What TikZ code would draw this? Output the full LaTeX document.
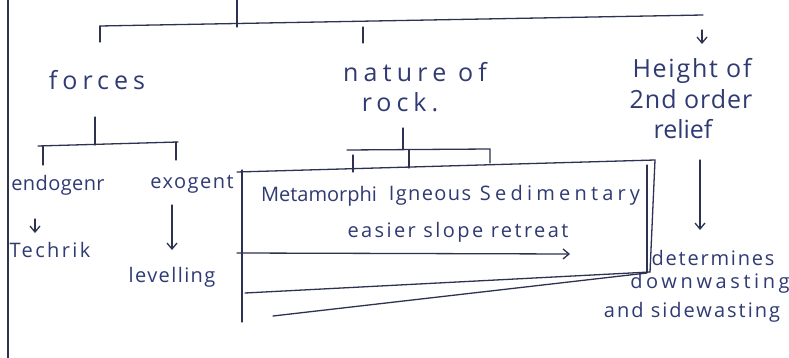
\documentclass[tikz,border=0pt]{standalone}
\usepackage{fontspec}
\setmainfont{Open Sans}
\usetikzlibrary{arrows.meta}
\definecolor{ink}{RGB}{48,58,115}
\definecolor{pen}{RGB}{45,50,80}
\begin{document}
\begin{tikzpicture}[x=1pt,y=-1pt,
  lbl/.style={text=ink, inner sep=0pt, font=\fontsize{25}{28}\selectfont\addfontfeatures{LetterSpace=#1}},
  lbl/.default=0,
  sm/.style={text=ink, inner sep=0pt, font=\fontsize{20}{23}\selectfont\addfontfeatures{LetterSpace=#1}},
  sm/.default=0,
  ln/.style={draw=pen, line width=1.3pt, line cap=round},
  arr/.style={ln, -{Straight Barb[length=6pt,width=10pt]}}]
\fill[white] (0,0) rectangle (789,358);
\useasboundingbox (0,0) rectangle (789,358);
% labels
\node[lbl=20] (forces) at (97,80) {forces};
\node[lbl=21] (nature) at (415,72) {nature of};
\node[lbl=20] (rock) at (400,102) {rock.};
\node[lbl=7] (height) at (692,71) {Height of};
\node[lbl=4] (order) at (691,99) {2nd order};
\node[lbl=0] (relief) at (683,129) {relief};
\node[sm=2] (endo) at (58,185) {endogenr};
\node[sm=7.5] (exo) at (192,184) {exogent};
\node[sm=12] (tech) at (50,250) {Techrik};
\node[sm=7] (level) at (172,277) {levelling};
\node[sm=0] (meta) at (319,196) {Metamorphi};
\node[sm=7] (ign) at (430,196) {Igneous};
\node[sm=21] (sed) at (560,195) {Sedimentary};
\node[sm=12] (easier) at (458,232) {easier slope retreat};
\node[sm=9] (det) at (713,258) {determines};
\node[sm=18] (down) at (710,283) {downwasting};
\node[sm=10] (side) at (692,312) {and sidewasting};
% coordinates
\coordinate (stemtop) at (237,0);
\coordinate (stembot) at (237,27);
\coordinate (barL) at (100,26);
\coordinate (barR) at (703,15);
\coordinate (dropL) at (100,42);
\coordinate (midA) at (363,27);
\coordinate (midB) at (363,43);
\coordinate (rA) at (702,30);
\coordinate (rB) at (702,44);
% top tree
\draw[ln] (stemtop) -- (stembot);
\draw[ln] (barL) -- (barR);
\draw[ln] (barL) -- (dropL);
\draw[ln] (midA) -- (midB);
\draw[arr] (rA) -- (rB);
% forces subtree
\coordinate (fs1) at (95,117); \coordinate (fs2) at (95,145);
\coordinate (fb1) at (38,146); \coordinate (fb2) at (178,142);
\coordinate (fl1) at (43,146); \coordinate (fl2) at (43,165);
\coordinate (fr1) at (176,142); \coordinate (fr2) at (176,160);
\draw[ln] (fs1) -- (fs2);
\draw[ln] (fb1) -- (fb2);
\draw[ln] (fl1) -- (fl2);
\draw[ln] (fr1) -- (fr2);
\coordinate (ea) at (35,219); \coordinate (eb) at (35,233);
\draw[arr] (ea) -- (eb);
\coordinate (xa) at (172,205); \coordinate (xb) at (172,250);
\draw[arr] (xa) -- (xb);
% rock subtree
\coordinate (rs1) at (403,128); \coordinate (rs2) at (403,149);
\coordinate (rb1) at (347,150); \coordinate (rb2) at (490,149);
\coordinate (rr2) at (490,163);
\coordinate (rm1) at (409,150); \coordinate (rm2) at (409,168);
\coordinate (rl1) at (353,155); \coordinate (rl2) at (353,172);
\draw[ln] (rs1) -- (rs2);
\draw[ln] (rb1) -- (rb2) -- (rr2);
\draw[ln] (rm1) -- (rm2);
\draw[ln] (rl1) -- (rl2);
% box
\coordinate (bTL) at (237,172); \coordinate (bTR) at (655,160);
\coordinate (bBR) at (650,272);
\coordinate (iT) at (647,165); \coordinate (iB) at (647,272);
\coordinate (lT) at (242,170); \coordinate (lB) at (242,322);
\draw[ln] (bTL) -- (bTR) -- (bBR);
\draw[ln] (iT) -- (iB);
\draw[ln] (lT) -- (lB);
\coordinate (eaL) at (237,253); \coordinate (eaR) at (570,254);
\draw[arr] (eaL) -- (eaR);
\coordinate (l1a) at (245,293); \coordinate (l1b) at (650,272);
\coordinate (l2a) at (273,316); \coordinate (l2b) at (647,273);
\draw[ln] (l1a) -- (l1b);
\draw[ln] (l2a) -- (l2b);
\coordinate (hA) at (700,160); \coordinate (hB) at (700,230);
\draw[arr] (hA) -- (hB);
% left border
\coordinate (lbT) at (8,0); \coordinate (lbB) at (8,358);
\draw[draw=pen, line width=2.6pt] (lbT) -- (lbB);
\end{tikzpicture}
\end{document}
